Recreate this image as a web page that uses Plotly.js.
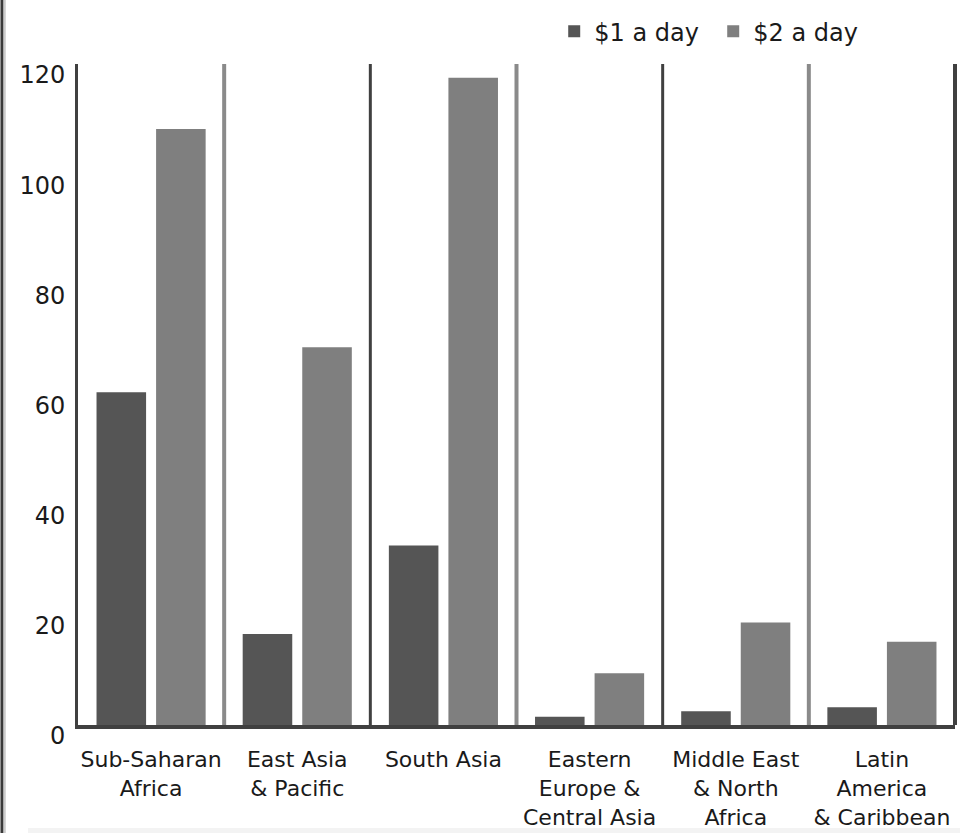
<!DOCTYPE html>
<html>
<head>
<meta charset="utf-8">
<script src="https://cdn.plot.ly/plotly-3.0.1.min.js"></script>
<style>
html,body{margin:0;padding:0;background:#fff;overflow:hidden;}
#chart{width:960px;height:833px;}
</style>
</head>
<body>
<div id="chart"></div>
<script>
var categories = ["Sub-Saharan<br>Africa", "East Asia<br>& Pacific", "South Asia", "Eastern<br>Europe &<br>Central Asia", "Middle East<br>& North<br>Africa", "Latin<br>America<br>& Caribbean"];
var oneDollar = [60.4, 16.5, 32.6, 1.5, 2.5, 3.2];
var twoDollar = [108.2, 68.6, 117.5, 9.4, 18.6, 15.1];
var seriesNames = ["$1 a day", "$2 a day"];
var yTicks = [0, 20, 40, 60, 80, 100, 120];

var font = "DejaVu Sans, Verdana, sans-serif";

var traces = [
  {type: "bar", name: seriesNames[0], x: categories, y: oneDollar,
   marker: {color: "#555555", line: {width: 0}}, hoverinfo: "y"},
  {type: "bar", name: seriesNames[1], x: categories, y: twoDollar,
   marker: {color: "#7f7f7f", line: {width: 0}}, hoverinfo: "y"}
];

var shapes = [];
// faint band at the bottom of the page
shapes.push({type: "rect", xref: "paper", yref: "paper", x0: -0.057, x1: 1.1, y0: -0.1634, y1: -0.1558,
  fillcolor: "#f3f3f3", line: {width: 0}, layer: "below"});
for (var i = 0; i < categories.length - 1; i++) {
  var light = (i % 2 === 0);
  shapes.push({type: "line", xref: "x", yref: "paper", x0: i + 0.5, x1: i + 0.5, y0: 0, y1: 1,
    line: {color: light ? "#8a8a8a" : "#404040", width: light ? 4 : 3}, layer: "below"});
}
// right border of the plot
shapes.push({type: "line", xref: "paper", yref: "paper", x0: 1, x1: 1, y0: 0, y1: 1,
  line: {color: "#404040", width: 4}});
// page frame on the left
shapes.push({type: "line", xref: "paper", yref: "paper", x0: -0.0867, x1: -0.0867, y0: -0.2, y1: 1.2,
  line: {color: "#3a3a3a", width: 3}});
shapes.push({type: "line", xref: "paper", yref: "paper", x0: -0.0835, x1: -0.0835, y0: -0.2, y1: 1.2,
  line: {color: "#cccccc", width: 2}});

var layout = {
  width: 960, height: 833,
  margin: {l: 78, r: 5, t: 64, b: 108},
  paper_bgcolor: "#ffffff", plot_bgcolor: "#ffffff",
  barmode: "group", bargap: 0.185, bargroupgap: 0.168,
  showlegend: true,
  legend: {orientation: "h", x: 0.543, xanchor: "left", y: 1.015, yanchor: "bottom",
    font: {family: font, size: 24, color: "#1a1a1a"}, traceorder: "normal",
    itemwidth: 30, entrywidth: 114, bgcolor: "rgba(0,0,0,0)"},
  xaxis: {type: "category", showgrid: false, zeroline: false,
    showline: true, linecolor: "#404040", linewidth: 4,
    ticks: "", tickfont: {family: font, size: 22, color: "#1a1a1a"},
    ticklabelstandoff: 12, tickangle: 0, fixedrange: true},
  yaxis: {range: [0, 120], tickvals: yTicks, ticktext: yTicks.map(String),
    showgrid: false, zeroline: false, showline: true, linecolor: "#404040", linewidth: 3,
    ticks: "", tickfont: {family: font, size: 24, color: "#1a1a1a"},
    ticklabelstandoff: 5, ticklabelshift: 11, fixedrange: true},
  shapes: shapes
};

Plotly.newPlot("chart", traces, layout, {displayModeBar: false, staticPlot: true});
</script>
</body>
</html>
